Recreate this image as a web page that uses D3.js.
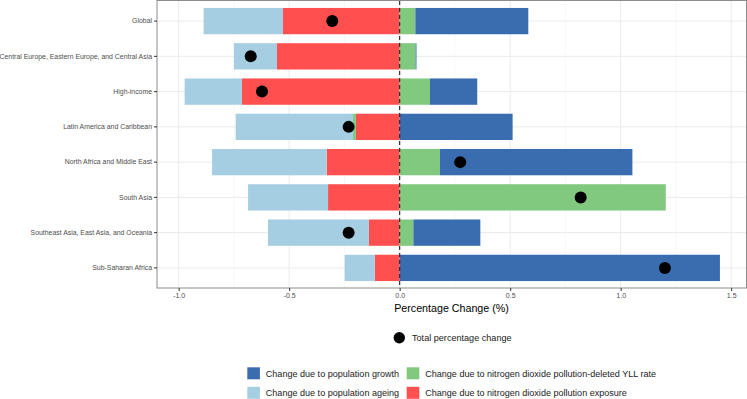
<!DOCTYPE html>
<html>
<head>
<meta charset="utf-8">
<script src="https://cdn.jsdelivr.net/npm/d3@7"></script>
<style>
  body { margin: 0; background: #fff; }
  text { font-family: "Liberation Sans", Arial, sans-serif; }
</style>
</head>
<body>
<div id="chart"></div>
<script>
const width = 747;
const height = 399;
const margin = { top: 1, left: 157, right: 1, bottom: 111 };

// data
const regions = ["Global", "Central Europe, Eastern Europe, and Central Asia", "High-income",
  "Latin America and Caribbean", "North Africa and Middle East", "South Asia",
  "Southeast Asia, East Asia, and Oceania", "Sub-Saharan Africa"];
const growth   = [0.511, 0.004, 0.214, 0.511, 0.871, 0.000, 0.303, 1.449];
const ageing   = [-0.359, -0.195, -0.259, -0.531, -0.519, -0.362, -0.457, -0.137];
const yllRate  = [0.071, 0.072, 0.137, -0.013, 0.182, 1.204, 0.062, 0.000];
const exposure = [-0.528, -0.555, -0.714, -0.198, -0.330, -0.324, -0.139, -0.112];
const totals   = [-0.305, -0.674, -0.623, -0.231, 0.274, 0.819, -0.231, 1.200];
const xTicks = [-1.0, -0.5, 0.0, 0.5, 1.0, 1.5];
const xMinor = [-0.75, -0.25, 0.25, 0.75, 1.25];

const keys = ["exposure", "yll", "ageing", "growth"];
const color = {
  growth: "#3a6cb0",
  ageing: "#a6cee3",
  yll: "#80c97f",
  exposure: "#ff4f4f"
};
const labels = {
  growth: "Change due to population growth",
  ageing: "Change due to population ageing",
  yll: "Change due to nitrogen dioxide pollution-deleted YLL rate",
  exposure: "Change due to nitrogen dioxide pollution exposure"
};

const rows = regions.map((r, i) => ({
  region: r, growth: growth[i], ageing: ageing[i], yll: yllRate[i], exposure: exposure[i], total: totals[i]
}));

const svg = d3.select("#chart").append("svg")
  .attr("width", width).attr("height", height);

const x = d3.scaleLinear()
  .domain([-1.098, 1.567])
  .range([margin.left, width - margin.right]);

const y = d3.scaleBand()
  .domain(regions)
  .range([margin.top, height - margin.bottom])
  .paddingOuter(0.197)
  .paddingInner(0.254);

const panelBottom = height - margin.bottom;
const panelMid = (margin.left + width - margin.right) / 2;

// grid
let grid = svg.append("g");
grid.selectAll(".minor").data(xMinor).enter().append("line")
  .attr("x1", d => x(d)).attr("x2", d => x(d))
  .attr("y1", margin.top).attr("y2", panelBottom)
  .attr("stroke", "#f3f3f3").attr("stroke-width", 0.6);
grid.selectAll(".major").data(xTicks).enter().append("line")
  .attr("x1", d => x(d)).attr("x2", d => x(d))
  .attr("y1", margin.top).attr("y2", panelBottom)
  .attr("stroke", "#ebebeb").attr("stroke-width", 1);
grid.selectAll(".hgrid").data(regions).enter().append("line")
  .attr("x1", margin.left).attr("x2", width - margin.right)
  .attr("y1", d => y(d) + y.bandwidth() / 2).attr("y2", d => y(d) + y.bandwidth() / 2)
  .attr("stroke", "#ebebeb").attr("stroke-width", 1);

// stacked bars
const series = d3.stack().keys(keys).offset(d3.stackOffsetDiverging)(rows);

svg.append("g").selectAll("g").data(series).enter().append("g")
  .attr("fill", d => color[d.key])
  .selectAll("rect").data(d => d).enter().append("rect")
  .attr("x", d => x(Math.min(d[0], d[1])))
  .attr("width", d => Math.abs(x(d[1]) - x(d[0])))
  .attr("y", d => y(d.data.region))
  .attr("height", y.bandwidth());

// zero line
svg.append("line")
  .attr("x1", x(0)).attr("x2", x(0))
  .attr("y1", margin.top).attr("y2", panelBottom)
  .attr("stroke", "#222").attr("stroke-width", 1.1)
  .attr("stroke-dasharray", "4,3");

// total points
svg.append("g").selectAll("circle").data(rows).enter().append("circle")
  .attr("cx", d => x(d.total))
  .attr("cy", d => y(d.region) + y.bandwidth() / 2)
  .attr("r", 6)
  .attr("fill", "#000");

// panel border
svg.append("rect")
  .attr("x", margin.left).attr("y", margin.top - 0.5)
  .attr("width", width - margin.right - margin.left + 0.5)
  .attr("height", panelBottom - margin.top + 0.5)
  .attr("fill", "none").attr("stroke", "#8c8c8c").attr("stroke-width", 1);

// axes
const xAxis = svg.append("g")
  .attr("transform", `translate(0,${panelBottom})`)
  .style("opacity", 0.999)
  .call(d3.axisBottom(x).tickValues(xTicks).tickSize(3).tickPadding(2).tickFormat(d3.format(".1f")));
xAxis.select(".domain").remove();
xAxis.selectAll("line").attr("stroke", "#333");
xAxis.selectAll("text").attr("fill", "#4d4d4d").style("font-size", "7px")
  .text(d => d3.format(".1f")(d).replace("−", "-"));

const yAxis = svg.append("g")
  .attr("transform", `translate(${margin.left},0)`)
  .style("opacity", 0.999)
  .call(d3.axisLeft(y).tickSize(3).tickPadding(2));
yAxis.select(".domain").remove();
yAxis.selectAll("line").attr("stroke", "#333");
yAxis.selectAll("text").attr("fill", "#4d4d4d").style("font-size", "6.9px");

svg.append("text")
  .attr("x", panelMid).attr("y", 311.5)
  .attr("text-anchor", "middle")
  .style("font-size", "10.7px").attr("fill", "#000")
  .text("Percentage Change (%)");

// legend: point
svg.append("circle").attr("cx", 399.3).attr("cy", 337.7).attr("r", 5.7).attr("fill", "#000");
svg.append("text").attr("x", 412).attr("y", 341)
  .style("font-size", "9.1px").attr("fill", "#222")
  .text("Total percentage change");

// legend: fills
const legendKeys = ["growth", "ageing", "yll", "exposure"];
const legendPos = [
  { x: 247.3, y: 367.3 }, { x: 247.3, y: 386.8 },
  { x: 406.7, y: 367.3 }, { x: 406.7, y: 386.8 }
];
const lg = svg.append("g").selectAll("g").data(legendKeys).enter().append("g")
  .attr("transform", (d, i) => `translate(${legendPos[i].x},${legendPos[i].y})`);
lg.append("rect").attr("width", 12.6).attr("height", 12).attr("fill", d => color[d]);
lg.append("text").attr("x", 18.5).attr("y", 9.3)
  .style("font-size", "9.05px").attr("fill", "#222")
  .text(d => labels[d]);
</script>
</body>
</html>
